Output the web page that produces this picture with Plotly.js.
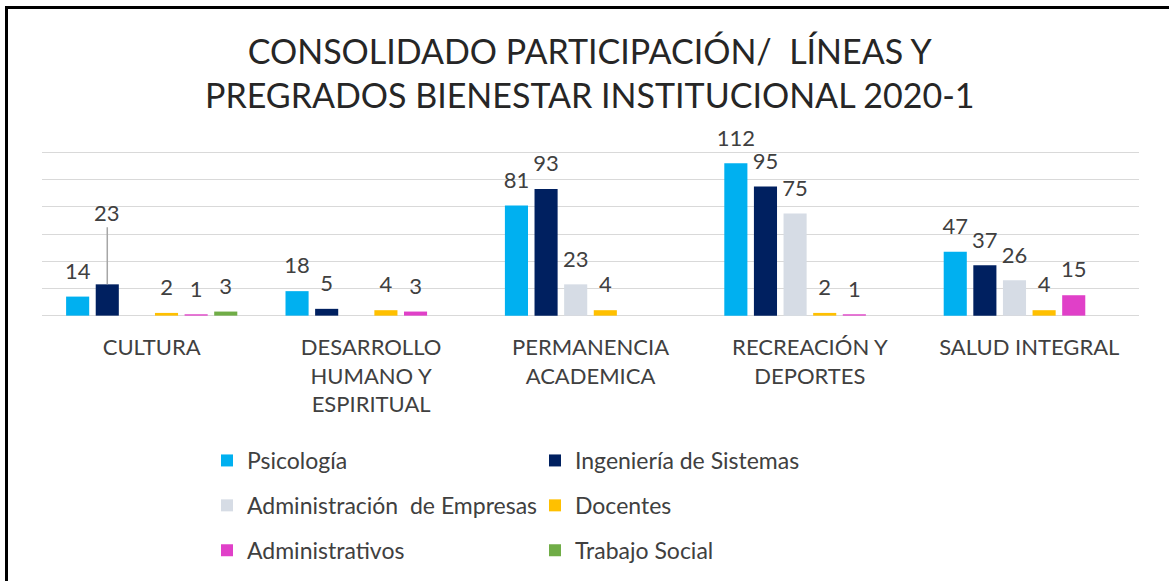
<!DOCTYPE html>
<html>
<head>
<meta charset="utf-8">
<script src="https://cdn.plot.ly/plotly-3.0.1.min.js"></script>
<style>
  html, body { margin: 0; padding: 0; background: #fff; }
  #wrap { position: relative; width: 1169px; height: 581px; overflow: hidden; }
  #chart { position: absolute; left: 0; top: 0; width: 1169px; height: 581px; }
  #frame { position: absolute; left: 5px; top: 6px; width: 1170px; height: 580px;
           border-left: 3px solid #000; border-top: 3px solid #000; pointer-events: none; }
</style>
</head>
<body>
<div id="wrap"><div id="chart"></div><div id="frame"></div></div>
<script>
// ---- data ----
const titleText = "CONSOLIDADO PARTICIPACIÓN/\u00a0 LÍNEAS Y<br>PREGRADOS BIENESTAR INSTITUCIONAL 2020-1";
const categories = [
  "CULTURA",
  "DESARROLLO<br>HUMANO Y<br>ESPIRITUAL",
  "PERMANENCIA<br>ACADEMICA",
  "RECREACIÓN Y<br>DEPORTES",
  "SALUD INTEGRAL"
];
const seriesNames = [
  "Psicología",
  "Ingeniería de Sistemas",
  "Administración\u00a0 de Empresas",
  "Docentes",
  "Administrativos",
  "Trabajo Social"
];
const psicologia       = [14, 18, 81, 112, 47];
const ingenieria       = [23, 5, 93, 95, 37];
const adminEmpresas    = [0, 0, 23, 75, 26];
const docentes         = [2, 4, 4, 2, 4];
const administrativos  = [1, 3, 0, 1, 15];
const trabajoSocial    = [3, 0, 0, 0, 0];
const gridValues = [0, 20, 40, 60, 80, 100, 120];
const seriesValues = [psicologia, ingenieria, adminEmpresas, docentes, administrativos, trabajoSocial];
const seriesColors = ["#00B0F0", "#002060", "#D6DCE5", "#FFC000", "#E040C8", "#70AD47"];
// label that was moved with a leader line (series index, category index)
const leaderLabel = {series: 1, category: 0};

// ---- chart ----
const FONT = "Lato, 'Open Sans', sans-serif";
const TXT = "#404040";
const BARGAP = 0.19, GROUPGAP = 0.22;
const N = seriesValues.length;
const xIdx = categories.map((c, i) => i);
const slot = (1 - BARGAP) / N;

const traces = [];
seriesValues.forEach((vals, s) => {
  traces.push({
    type: "bar", name: seriesNames[s], x: xIdx, y: vals,
    marker: {color: seriesColors[s]},
    legend: (s % 2 === 0) ? "legend" : "legend2",
    legendgroup: "g" + s,
    hoverinfo: "x+y+name"
  });
});
// value labels
seriesValues.forEach((vals, s) => {
  traces.push({
    type: "scatter", mode: "markers+text", showlegend: false, hoverinfo: "skip",
    x: xIdx.map(i => i + (s - (N - 1) / 2) * slot),
    y: vals,
    text: vals.map((v, c) => (v === 0 || (s === leaderLabel.series && c === leaderLabel.category)) ? "" : String(v)),
    textposition: "top center",
    textfont: {family: FONT, size: 22, color: TXT},
    marker: {size: 18, opacity: 0},
    cliponaxis: false
  });
});

const lv = seriesValues[leaderLabel.series][leaderLabel.category];
// y-range padded slightly so the 0 and 120 gridlines are drawn
const Y0 = -1, Y1 = 121;
const PX_PER_UNIT = (316 - 152.7) / 120;
const PLOT_B = Math.round(316 - Y0 * PX_PER_UNIT);   // pixel of range bottom
const PLOT_T = Math.round(316 - Y1 * PX_PER_UNIT);   // pixel of range top
const pyToPaper = py => (PLOT_B - py) / (PLOT_B - PLOT_T);
const pxToPaper = px => (px - 42) / (1169 - 42 - 30);
const layout = {
  width: 1169, height: 581,
  margin: {l: 42, r: 30, t: PLOT_T, b: 581 - PLOT_B, pad: 0, autoexpand: false},
  paper_bgcolor: "#ffffff", plot_bgcolor: "#ffffff",
  font: {family: FONT, color: TXT},
  barmode: "group", bargap: BARGAP, bargroupgap: GROUPGAP,
  xaxis: {
    range: [-0.5, categories.length - 0.5],
    tickmode: "array", tickvals: xIdx, ticktext: categories,
    showgrid: false, zeroline: false, showline: false, ticks: "",
    ticklabelstandoff: 15,
    tickfont: {family: FONT, size: 22, color: TXT}
  },
  yaxis: {
    range: [Y0, Y1], tickmode: "array", tickvals: gridValues,
    showticklabels: false,
    showgrid: true, gridcolor: "#D9D9D9", gridwidth: 1,
    zeroline: false, showline: false, ticks: ""
  },
  legend: {
    x: pxToPaper(207), xanchor: "left", y: pyToPaper(439), yanchor: "top",
    orientation: "v", font: {family: FONT, size: 23, color: TXT},
    tracegroupgap: 12, bgcolor: "rgba(0,0,0,0)"
  },
  legend2: {
    x: pxToPaper(535), xanchor: "left", y: pyToPaper(439), yanchor: "top",
    orientation: "v", font: {family: FONT, size: 23, color: TXT},
    tracegroupgap: 12, bgcolor: "rgba(0,0,0,0)"
  },
  annotations: [
    {
      x: leaderLabel.category + (leaderLabel.series - (N - 1) / 2) * slot,
      y: lv, xref: "x", yref: "y",
      text: String(lv), showarrow: true, arrowhead: 0, arrowwidth: 1.5,
      arrowcolor: "#A6A6A6", ax: 0, ay: -72,
      font: {family: FONT, size: 22, color: TXT}
    },
    {
      x: pxToPaper(590), y: pyToPaper(73), xref: "paper", yref: "paper",
      xanchor: "center", yanchor: "middle", showarrow: false, align: "center",
      text: titleText, font: {family: FONT, size: 34, color: "#262626"}
    }
  ],
  showlegend: true
};

Plotly.newPlot("chart", traces, layout, {displayModeBar: false, staticPlot: true});
</script>
</body>
</html>
